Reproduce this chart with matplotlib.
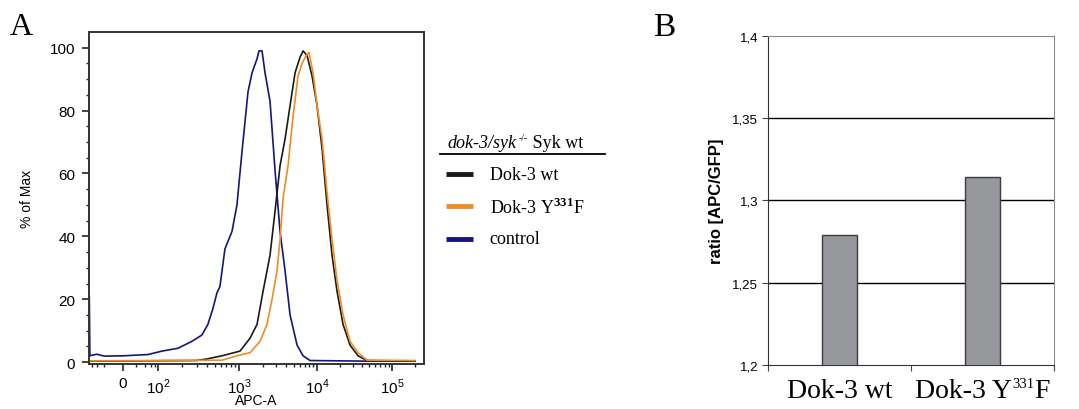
import matplotlib
matplotlib.use("Agg")
import matplotlib.pyplot as plt
import numpy as np
from matplotlib.lines import Line2D
from matplotlib.ticker import FixedLocator, NullFormatter

plt.rcParams["font.family"] = ["Liberation Sans", "DejaVu Sans"]
plt.rcParams["mathtext.fontset"] = "custom"
plt.rcParams["mathtext.rm"] = "Liberation Serif"
plt.rcParams["mathtext.bf"] = "Liberation Serif:bold"
plt.rcParams["mathtext.sf"] = "Liberation Sans"

# --- panel A: APC histograms (% of max) ---
control_x = [-195, -185, -150, -100, -50, 0, 50, 112, 177, 263, 349, 414, 477, 535,
             582, 671, 820, 943, 1092, 1304, 1468, 1702, 1805, 1972, 2154, 2496, 2895,
             3357, 3892, 4510, 5546, 6622, 8137, 46400, 200000]
control_y = [21, 2.0, 2.2, 2.5, 1.9, 2.0, 2.4, 3.5, 4.4, 6.6, 8.6, 12, 17, 22,
             24, 36, 41.6, 50, 67, 86, 92, 96.5, 99, 99, 92, 83, 61,
             41.5, 29, 15, 5.4, 2, 0.5, 0.3, 0.3]

wt_x = [-195, 300, 403, 617, 1030, 1384, 1702, 2032, 2496, 2895, 3357, 3892, 4510,
        5223, 6055, 6622, 7450, 8630, 10000, 11660, 13590, 15850, 18480, 22220,
        27540, 35220, 46400, 200000]
wt_y = [0.3, 0.5, 1.0, 2.0, 3.5, 7.6, 12, 22.5, 34, 48, 62.5, 71, 81.6,
        92, 97, 99, 97.5, 91, 81.6, 68, 50, 34, 22.5, 12,
        5.4, 2, 0.5, 0.3]

mut_x = [-195, 617, 943, 1384, 1858, 2285, 2650, 3069, 3357, 3665, 4249, 4921, 5703,
         6425, 7230, 7890, 8890, 10000, 11660, 13590, 15850, 18480, 22220, 27540,
         35220, 46400, 200000]
mut_y = [0.4, 0.6, 2, 3, 6.6, 12, 20, 29, 39, 52, 62.5, 78, 91,
         95, 97.5, 98.5, 92, 81.6, 71, 54, 39, 26, 15, 6.6,
         3, 0.6, 0.5]

apc_ticks = [0, 100, 1000, 10000, 100000]
apc_ticklabels = ["0", "10$^{\\mathsf{2}}$", "10$^{\\mathsf{3}}$",
                  "10$^{\\mathsf{4}}$", "10$^{\\mathsf{5}}$"]
apc_minor = [-150, -100, -50, 20, 40, 60, 80] + \
    [m * 10 ** e for e in (2, 3, 4) for m in range(2, 10)] + [200000]

# --- panel B: APC/GFP ratio ---
ratios = [1.279, 1.314]
# each label as pieces: (text, fontsize, rise in px)
group_labels = [[("Dok-3 wt", 20, 0)],
                [("Dok-3 Y", 20, 0), ("331", 10.5, 10), ("F", 20, 0)]]

SERIF = "Liberation Serif"

# biexponential-like display axis (FlowJo style)
anchor_vals = np.array([-200, 0, 100, 1e3, 1e4, 1e5, 262144])
anchor_pos = np.array([0, 34, 69, 150, 228, 303, 335], dtype=float)
c = 20.0


def fwd(x):
    return np.interp(np.arcsinh(np.asarray(x, dtype=float) / c),
                     np.arcsinh(anchor_vals / c), anchor_pos)


def inv(p):
    return c * np.sinh(np.interp(np.asarray(p, dtype=float), anchor_pos,
                                 np.arcsinh(anchor_vals / c)))


def place_pieces(fig, pieces, x, y, align="left", **kw):
    """Write text pieces side by side (figure pixels), baseline at y."""
    renderer = fig.canvas.get_renderer()
    texts = []
    for s, size, rise in pieces:
        t = fig.text(0, 0, s, fontsize=size, va="baseline", ha="left",
                     transform=None, **kw)
        texts.append((t, rise))
    widths = [t.get_window_extent(renderer).width for t, _ in texts]
    x0 = x - sum(widths) / 2 if align == "center" else x
    H = fig.bbox.height
    for (t, rise), w in zip(texts, widths):
        t.set_position((x0, H - y + rise))
        x0 += w
    return [t for t, _ in texts]


fig = plt.figure(figsize=(10.79, 4.10), dpi=100)

axA = fig.add_axes([0.0825, 0.1098, 0.3105, 0.8097])
axA.set_xscale("function", functions=(fwd, inv))
axA.plot(control_x, control_y, color="#15157e", lw=1.2)
axA.plot(wt_x, wt_y, color="#1a1a1a", lw=1.2)
axA.plot(mut_x, mut_y, color="#f08c22", lw=1.2)
axA.set_xlim(-200, 262144)
axA.set_ylim(-0.6, 105)
axA.xaxis.set_major_locator(FixedLocator(apc_ticks))
axA.set_xticklabels(apc_ticklabels)
axA.xaxis.set_minor_locator(FixedLocator(apc_minor))
axA.xaxis.set_minor_formatter(NullFormatter())
axA.set_yticks(np.arange(0, 101, 20))
axA.yaxis.set_minor_locator(FixedLocator(np.arange(0, 101, 5)))
axA.tick_params(axis="both", which="major", direction="out", length=5, width=1.2,
                labelsize=11, color="#222222")
axA.tick_params(axis="both", which="minor", direction="out", length=2.5, width=1,
                color="#222222")
axA.tick_params(axis="x", which="major", pad=4)
axA.tick_params(axis="y", which="major", pad=5)
for s in axA.spines.values():
    s.set_linewidth(1.4)
    s.set_color("#333333")
axA.set_ylabel("% of Max", fontsize=10, labelpad=11)
axA.set_xlabel("APC-A", fontsize=10, labelpad=-2)

# legend block for panel A
title_parts = place_pieces(fig, [("dok-3/syk", 13, 0), ("-/-", 7, 7),
                                 (" Syk wt", 13, 0)], 447, 148, family=SERIF)
title_parts[0].set_style("italic")
fig.add_artist(Line2D([0.408, 0.561], [0.622, 0.622], color="black", lw=1.3,
                      transform=fig.transFigure))
legend_items = [("Dok-3 wt", "#1a1a1a"),
                ("Dok-3 Y$^{\\mathbf{331}}$F", "#f08c22"),
                ("control", "#15157e")]
for i, (label, col) in enumerate(legend_items):
    yy = 0.573 - i * 0.079
    fig.add_artist(Line2D([0.413, 0.438], [yy, yy], color=col, lw=3.5,
                          transform=fig.transFigure, solid_capstyle="butt"))
    fig.text(0.454, yy, label, fontsize=13, family=SERIF, va="center")

# --- panel B ---
axB = fig.add_axes([0.7118, 0.1073, 0.265, 0.8025])
xpos = np.arange(len(ratios))
axB.bar(xpos, ratios, width=0.25, color="#96989c", edgecolor="#3c3c3c", lw=1,
        zorder=3)
axB.set_xlim(-0.5, 1.5)
axB.set_ylim(1.2, 1.4)
yt = [1.2, 1.25, 1.3, 1.35, 1.4]
axB.set_yticks(yt)
axB.set_yticklabels(["1,2", "1,25", "1,3", "1,35", "1,4"])
for v in yt[1:-1]:
    axB.axhline(v, color="black", lw=1, zorder=1)
axB.xaxis.set_major_locator(FixedLocator([-0.5, 0.5, 1.5]))
axB.xaxis.set_major_formatter(NullFormatter())
axB.tick_params(axis="x", which="major", length=4, direction="out", color="#444444")
axB.tick_params(axis="y", length=4, direction="out", labelsize=9.5, pad=3,
                color="#444444")
axB.spines["top"].set_color("#888888")
axB.spines["right"].set_color("#888888")
axB.spines["left"].set_color("#333333")
axB.spines["bottom"].set_color("#333333")
axB.set_ylabel("ratio [APC/GFP]", fontsize=12, fontweight="bold", labelpad=6)

# category labels under the bars
for xi, pieces in zip(xpos, group_labels):
    xd = axB.transData.transform((xi, 1.2))[0]
    place_pieces(fig, pieces, xd, 398, align="center", family=SERIF)

fig.text(0.009, 0.915, "A", fontsize=23, family=SERIF)
fig.text(0.605, 0.912, "B", fontsize=24, family=SERIF)

fig.savefig("out.png", dpi=100, facecolor="white")
